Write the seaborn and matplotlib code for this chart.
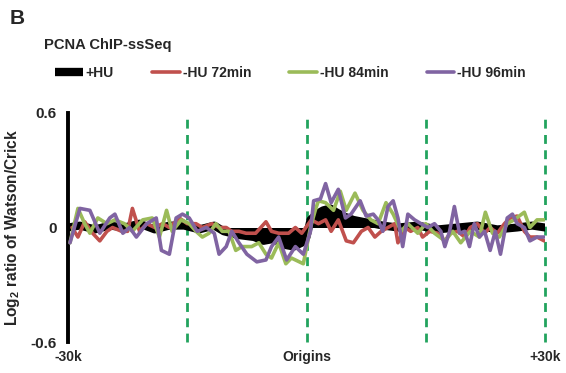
import numpy as np
import pandas as pd
import matplotlib
matplotlib.use("Agg")
import matplotlib.pyplot as plt
from matplotlib.lines import Line2D
import seaborn as sns

# ---- data (positions in kb relative to origins, values = log2 Watson/Crick) ----
hu_x = [-30, -28.5, -26.6, -24.75, -22.9, -21, -19.1, -17.25, -15.4, -13.5, -11.6, -10.4,
        -8.5, -6.6, -5.4, -4.1, -2.9, -1.6, -0.6, 0, 0.5, 1.25, 2.1, 3, 3.75, 4.6, 5.9,
        7.1, 8.4, 9.6, 11.5, 14, 16.5, 19, 21.5, 24, 26.5, 28.4, 30]
hu_y = [0, 0.01, -0.01, 0.01, 0, 0.02, -0.01, 0.01, 0.01, -0.01, 0.01, -0.02,
        -0.04, -0.05, -0.07, -0.06, -0.09, -0.10, -0.08, -0.05, 0.04, 0.07, 0.09, 0.10,
        0.08, 0.06, 0.04, 0.03, 0.02, 0.01, 0, 0.01, -0.01, 0, 0.01, -0.01, 0, 0.01, 0]

m72_x = [-29.5, -28.75, -27.9, -26.9, -26, -25.1, -24.4, -23.25, -22.5, -21.9, -21, -20.1,
         -19.1, -18.1, -17.25, -16, -15, -13.9, -13.1, -11.9, -11, -10.1, -9.4, -8.5, -7.6,
         -6.4, -5.1, -4.4, -3.5, -2.25, -1.4, -0.6, 0.6, 1.5, 2.4, 3.1, 4, 5, 5.9, 6.9,
         7.75, 8.6, 9.4, 10.25, 11.1, 11.5, 12.4, 13.1, 14, 14.6, 15.5, 16.5, 17.4, 18.1,
         19, 19.9, 20.6, 21.5, 22.4, 23.1, 24, 24.9, 25.6, 26.5, 27.4, 28.1, 29, 29.9]
m72_y = [0, -0.05, 0.03, -0.03, -0.07, -0.02, 0, -0.02, -0.02, 0.10, -0.02, 0.02,
         0, 0.02, 0, 0.05, 0.02, 0.02, 0, 0.02, 0, 0, -0.02, -0.02, -0.03,
         -0.03, 0.03, -0.02, -0.03, -0.03, 0, -0.03, 0.04, 0.02, 0.04, -0.02, 0.04, -0.07, -0.08, -0.02,
         0, -0.05, -0.02, 0, 0.02, -0.08, 0, -0.02, 0, -0.05, -0.02, -0.03, -0.07, -0.03,
         -0.02, -0.05, 0, 0.02, -0.03, 0, -0.03, 0.02, 0.05, 0.06, -0.02, -0.05, -0.05, -0.07]

m84_x = [-29.75, -28.75, -27.9, -27.25, -26.25, -25.1, -24.1, -22.9, -21.9, -20.6, -19.4,
         -18.5, -17.6, -16.9, -15.75, -14.75, -13.9, -13.1, -12.25, -11.4, -10.6, -9.75,
         -8.9, -8.1, -6.9, -6, -5.1, -4.4, -3.5, -2.6, -1.9, -0.4, 0.5, 1.1, 1.5, 2.4, 3.4,
         4.25, 5, 6.1, 7.1, 8.1, 9, 10, 10.9, 11.9, 12.75, 14, 15, 16.1, 17.4, 18.4, 19.4,
         20.6, 21.75, 22.5, 23.4, 24.25, 25.25, 26.1, 27.4, 28.1, 29, 29.9]
m84_y = [-0.08, 0.10, 0.02, -0.03, 0.05, 0.02, 0.04, 0.02, -0.02, 0.04, 0.05,
         -0.05, 0.09, -0.02, 0.04, 0.02, -0.02, -0.05, -0.03, 0.02, -0.02, -0.02,
         -0.12, -0.10, -0.10, -0.08, -0.14, -0.16, -0.08, -0.19, -0.16, -0.19, 0, 0.09, 0.14, 0.13, 0.09,
         0.19, 0.09, 0.18, 0.09, 0.04, 0.02, 0.13, 0.07, -0.02, 0.02, -0.03, 0.02, -0.03, -0.07, -0.02, -0.08,
         -0.02, -0.05, 0.08, -0.03, -0.05, 0.02, 0.04, 0.08, 0, 0.04, 0.04]

m96_x = [-29.75, -28.5, -27.25, -26, -24.75, -24.1, -23.1, -22.25, -21.4, -20.1, -18.9,
         -18.25, -17.25, -16.4, -15.6, -14.75, -13.75, -12.6, -11.6, -11, -10.1, -9.4, -8.5,
         -7.5, -6.25, -5.1, -4.4, -3.5, -2.5, -1.4, -0.4, 0.5, 0.9, 1.75, 2.4, 3.1, 4, 4.9,
         5.6, 6.75, 7.5, 8.4, 9, 9.6, 10.25, 10.9, 11.5, 12.1, 12.75, 13.6, 14.4, 15.25,
         16.1, 16.9, 17.4, 18, 18.6, 19.25, 19.9, 20.5, 21.1, 21.75, 22.4, 23.1, 23.75,
         24.4, 25.25, 25.9, 26.5, 27.4, 28.1, 29, 29.9]
m96_y = [-0.08, 0.10, 0.09, -0.03, 0.05, 0.07, -0.03, 0, -0.05, 0.02, 0.05,
         -0.12, -0.14, 0.05, 0.07, 0.05, -0.02, 0, -0.03, -0.14, -0.10, -0.02, -0.08,
         -0.14, -0.18, -0.17, -0.10, -0.05, -0.17, -0.10, -0.14, -0.02, 0.14, 0.15, 0.23, 0.13, 0.20, 0.05,
         0.07, 0.14, 0.06, 0.07, 0.04, -0.02, 0.11, 0.14, 0.05, -0.10, 0.07, 0.04, 0.02, 0,
         0.02, -0.02, -0.10, -0.02, 0.11, -0.03, -0.02, -0.10, 0.02, -0.05, -0.02, -0.12, -0.02,
         -0.14, 0.05, 0.07, 0.02, 0, -0.07, -0.05, -0.05]

series_names = ["+HU", "-HU 72min", "-HU 84min", "-HU 96min"]
x_ticks = [-30, 0, 30]
x_tick_labels = ["-30k", "Origins", "+30k"]
y_ticks = [-0.6, 0, 0.6]
y_tick_labels = ["-0.6", "0", "0.6"]
guide_positions = [-15, 0, 15, 30]

# ---- styling ----
sns.set_style("white")
plt.rcParams['font.family'] = ['Liberation Sans', 'DejaVu Sans']
plt.rcParams['font.weight'] = 'bold'
plt.rcParams['mathtext.fontset'] = 'custom'
plt.rcParams['mathtext.rm'] = 'Liberation Sans:bold'
plt.rcParams['mathtext.bf'] = 'Liberation Sans:bold'

colors = {"+HU": "#000000", "-HU 72min": "#c0504d", "-HU 84min": "#9bbb59", "-HU 96min": "#8064a2"}
guide_color = "#22a35e"

fig = plt.figure(figsize=(5.66, 3.73), dpi=100)
ax = fig.add_axes([68 / 566, 1 - 342 / 373, 477 / 566, 229 / 373])

# guide lines
for gx in guide_positions:
    ax.axvline(gx, color=guide_color, lw=2.0, ls=(0, (3.2, 2.3)), zorder=1, clip_on=False)

# +HU thick black trace
hu_df = pd.DataFrame({"x": hu_x, "y": hu_y})
ax.fill_between(hu_df["x"], 0, hu_df["y"], color="black", lw=0, zorder=2)
sns.lineplot(data=hu_df, x="x", y="y", ax=ax, color="black", lw=5.8, zorder=2,
             estimator=None, sort=False)

for name, xs, ys in [("-HU 72min", m72_x, m72_y),
                     ("-HU 84min", m84_x, m84_y),
                     ("-HU 96min", m96_x, m96_y)]:
    df = pd.DataFrame({"x": xs, "y": ys})
    sns.lineplot(data=df, x="x", y="y", ax=ax, color=colors[name], lw=2.6,
                 estimator=None, sort=False, zorder=3)

ax.set_xlim(-30, 30)
ax.set_ylim(-0.6, 0.6)
ax.set_xticks(x_ticks)
ax.set_xticklabels(x_tick_labels, fontsize=10, fontweight='bold')
ax.set_yticks(y_ticks)
ax.set_yticklabels(y_tick_labels, fontsize=11, fontweight='bold')
ax.tick_params(axis='x', length=0, pad=6)
ax.tick_params(axis='y', length=3, width=2.5, direction='out', pad=5, color='black')
ax.set_xlabel("")
ax.set_ylabel(r"Log$_\mathregular{2}$ ratio of Watson/Crick", fontsize=11.2, fontweight='bold', labelpad=6)

for s in ["top", "right", "bottom"]:
    ax.spines[s].set_visible(False)
ax.spines["left"].set_linewidth(2.8)
ax.spines["left"].set_color("black")

# titles
fig.text(10 / 566, 1 - 18 / 373, "B", fontsize=15, fontweight='bold', va='center', ha='left')
fig.text(44 / 566, 1 - 45 / 373, "PCNA ChIP-ssSeq", fontsize=10.6, fontweight='bold', va='center', ha='left')

handles = [Line2D([0], [0], color=colors["+HU"], lw=6, solid_capstyle='butt'),
           Line2D([0], [0], color=colors["-HU 72min"], lw=2.6),
           Line2D([0], [0], color=colors["-HU 84min"], lw=2.6),
           Line2D([0], [0], color=colors["-HU 96min"], lw=2.6)]
leg = fig.legend(handles, series_names, loc='center left', bbox_to_anchor=(55 / 566, 1 - 73 / 373),
                 ncol=4, frameon=False, handlelength=2.0, handletextpad=0.2, columnspacing=2.75,
                 prop={'size': 10, 'weight': 'bold'}, borderaxespad=0, borderpad=0)

fig.savefig("out.png", dpi=100)
